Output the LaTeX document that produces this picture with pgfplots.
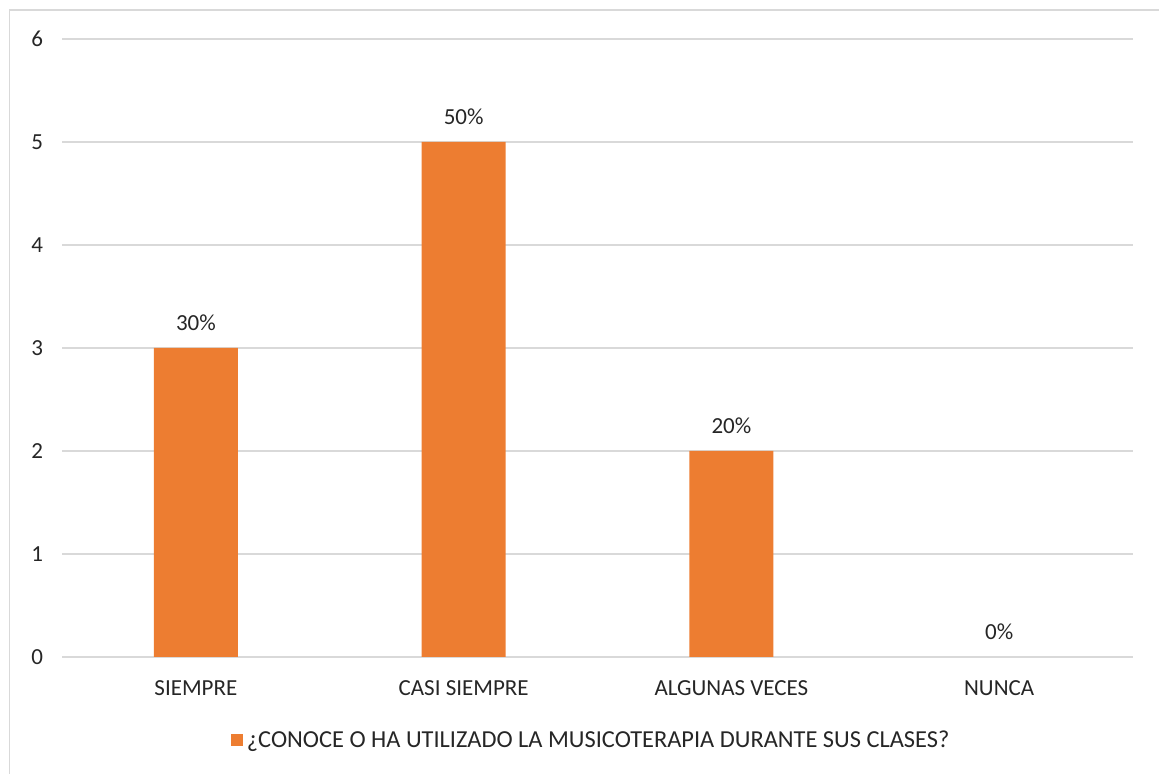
\documentclass[border=0pt]{standalone}
\usepackage{fontspec}
\setmainfont{Carlito}
\usepackage{pgfplots}
\pgfplotsset{compat=1.18}
\definecolor{barorange}{HTML}{ED7D31}
\definecolor{gridgray}{HTML}{D9D9D9}
\begin{document}
\begin{tikzpicture}
\useasboundingbox (0,0) rectangle (579.5pt,387pt);
\draw[gridgray,line width=0.9pt] (4.75pt,0) -- (4.75pt,382pt) -- (579.5pt,382pt);
\begin{axis}[
  at={(31pt,58.5pt)}, anchor=south west,
  scale only axis, width=535.5pt, height=309pt,
  xmin=-0.5, xmax=3.5, ymin=0, ymax=6,
  ybar, bar width=42pt, bar shift=0pt,
  axis lines=none,
  ytick={0,1,2,3,4,5,6},
  xtick={0,1,2,3},
  xticklabels={SIEMPRE,CASI SIEMPRE,ALGUNAS VECES,NUNCA},
  ymajorgrids, grid style={gridgray,line width=0.75pt},
  major tick length=0pt,
  font=\fontsize{11.5}{13}\selectfont,
  /pgf/number format/assume math mode=true,
  ticklabel style={font=\fontsize{11.5}{13}\selectfont, text=black!85},
  yticklabel style={xshift=-6pt},
  xticklabel style={yshift=-8.5pt},
  hide x axis=false, hide y axis=false,
  x axis line style={draw=none}, y axis line style={draw=none},
  nodes near coords,
  point meta=explicit symbolic,
  every node near coord/.append style={font=\fontsize{11.5}{13}\selectfont, text=black!85, yshift=5pt},
  legend style={at={(0.495,-0.135)}, anchor=center, draw=none, font=\fontsize{12.2}{14}\selectfont, text=black!85},
  legend image code/.code={\fill[barorange] (0pt,-3pt) rectangle (6pt,3pt);},
]
\addplot[fill=barorange, draw=none] coordinates {(0,3) [30\%] (1,5) [50\%] (2,2) [20\%]};
\addlegendentry{¿CONOCE O HA UTILIZADO LA MUSICOTERAPIA DURANTE SUS CLASES?}
\addplot[fill=none, draw=none, forget plot] coordinates {(3,0) [0\%]};
\end{axis}
\end{tikzpicture}
\end{document}
